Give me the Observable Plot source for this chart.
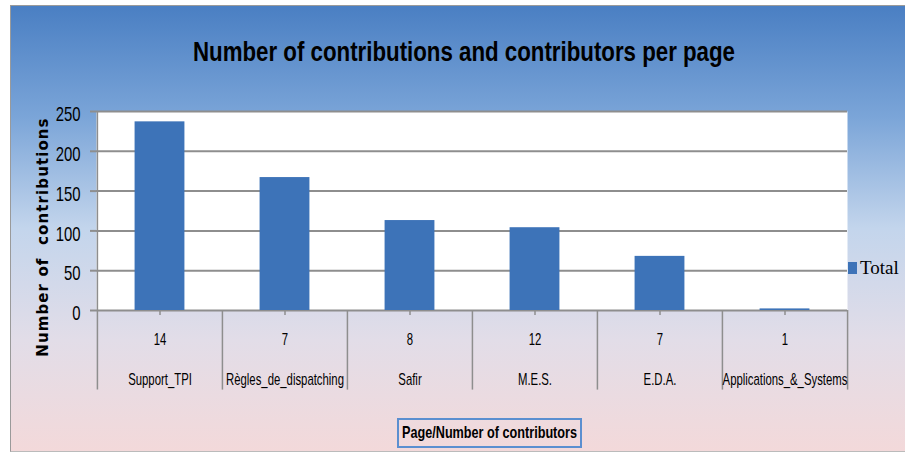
<!DOCTYPE html>
<html>
<head>
<meta charset="utf-8">
<script src="https://cdn.jsdelivr.net/npm/d3@7"></script>
<script src="https://cdn.jsdelivr.net/npm/@observablehq/plot@0.6"></script>
<style>
  html, body { margin: 0; padding: 0; background: #fff; }
  #wrap { position: relative; width: 905px; height: 454px; overflow: hidden; }
  #bg { position: absolute; left: 10px; top: 5px; width: 895px; height: 447px;
        box-sizing: border-box; border-left: 1.5px solid #9a9a9a; border-top: 1.5px solid #9a9a9a; border-bottom: 1.5px solid #bbb;
        background: linear-gradient(to bottom, #4a7fc3 0%, #7ba5d8 25%, #c3d5ec 50%, #e2dde8 75%, #f3d9da 100%); }
  #chart { position: absolute; left: 0; top: 0; }
  .fit { position: absolute; white-space: nowrap; transform-origin: 0 0; font-family: "Liberation Sans", Arial, sans-serif; font-weight: bold; color: #000; }
  #title { left: 193px; top: 38px; font-size: 28px; line-height: 28px; }
  #ylabel { position: absolute; left: 43px; top: 237px; transform: translate(-50%, -50%) rotate(-90deg);
            white-space: pre; font-family: "DejaVu Sans", Verdana, sans-serif; font-weight: bold; font-size: 15px; letter-spacing: 1.1px; color: #000; }
  #xbox { position: absolute; left: 397px; top: 418px; width: 185px; height: 30px; box-sizing: border-box;
          border: 2px solid #5b8fd0; }
  #xtitle { left: 402px; top: 424px; font-size: 17px; line-height: 17px; }
  #legend { position: absolute; left: 848px; top: 257px; font-family: "Liberation Serif", "DejaVu Serif", serif; font-size: 19px; color: #000; }
  #legend span.sw { display: inline-block; width: 9px; height: 12px; background: #3d73b8; margin-right: 3px; vertical-align: 0px; }
</style>
</head>
<body>
<div id="wrap">
  <div id="bg"></div>
  <div id="chart"></div>
  <div id="title" class="fit" data-w="542">Number of contributions and contributors per page</div>
  <div id="ylabel">Number of  contributions</div>
  <div id="xbox"></div>
  <div id="xtitle" class="fit" data-w="175">Page/Number of contributors</div>
  <div id="legend"><span class="sw"></span>Total</div>
</div>
<script>
const pages = ["Support_TPI", "Règles_de_dispatching", "Safir", "M.E.S.", "E.D.A.", "Applications_&_Systems"];
const contributors = [14, 7, 8, 12, 7, 1];
const contributions = [237, 167, 113, 104, 68, 2];
const yTicks = [0, 50, 100, 150, 200, 250];

const data = pages.map((p, i) => ({page: p, contributors: contributors[i], value: contributions[i]}));
const countOf = new Map(pages.map((p, i) => [p, contributors[i]]));

const W = 905, H = 454;
const mL = 96, mR = 58, mT = 111, mB = 144;
const step = (W - mL - mR) / pages.length;
const barW = 50;
const gray = "#8e8e8e";
const font = "Liberation Sans, Arial, sans-serif";

const chart = Plot.plot({
  width: W, height: H,
  marginLeft: mL, marginRight: mR, marginTop: mT, marginBottom: mB,
  style: { background: "transparent", overflow: "visible" },
  x: { domain: pages, padding: 0, label: null },
  y: { domain: [0, 250], label: null },
  marks: [
    Plot.frame({ fill: "white", stroke: null }),
    Plot.ruleY(yTicks, { y: d => d, stroke: gray, strokeWidth: 2 }),
    Plot.ruleX([pages[0]], { x: d => d, dx: -step / 2, y1: 250, y2: -100, stroke: gray, strokeWidth: 1.5 }),
    Plot.ruleX(pages.slice(1), { x: d => d, dx: -step / 2, y1: 0, y2: -100, stroke: gray, strokeWidth: 1.5 }),
    Plot.ruleX([pages[pages.length - 1]], { x: d => d, dx: step / 2, y1: 0, y2: -100, stroke: gray, strokeWidth: 1.5 }),
    Plot.barY(data, { x: "page", y: "value", fill: "#3d73b8", insetLeft: (step - barW) / 2, insetRight: (step - barW) / 2 }),
    Plot.axisY({ ticks: yTicks, tickSize: 6, tickPadding: 10, stroke: gray, strokeWidth: 2, fontSize: 21, fontFamily: font, className: "yt", fill: "#000" }),
    Plot.axisX({ tickSize: 5, tickPadding: 18, stroke: gray, strokeWidth: 1.5, tickFormat: d => countOf.get(d), fontSize: 16, fontFamily: font, className: "xt", fill: "#000" }),
    Plot.axisX({ tickSize: 0, tickPadding: 63, tickFormat: d => d, fontSize: 16, fontFamily: font, className: "xt", fill: "#000" })
  ]
});
document.getElementById("chart").appendChild(chart);

// horizontally condense tick labels (narrow font look)
function condense(sel, k, shiftY) {
  chart.querySelectorAll(sel).forEach(el => {
    const ax = parseFloat(el.getAttribute("x") || 0);
    const t = el.getAttribute("transform") || "";
    el.setAttribute("transform", `${t} translate(${ax},${shiftY}) scale(${k},1) translate(${-ax},0)`);
  });
}
condense("g.yt text", 0.71, 3);
condense("g.xt text", 0.71, 0);

// fit HTML titles to their target widths
document.querySelectorAll(".fit").forEach(el => {
  const w = el.getBoundingClientRect().width;
  const target = +el.dataset.w;
  el.style.transform = `scaleX(${target / w})`;
});
</script>
</body>
</html>
